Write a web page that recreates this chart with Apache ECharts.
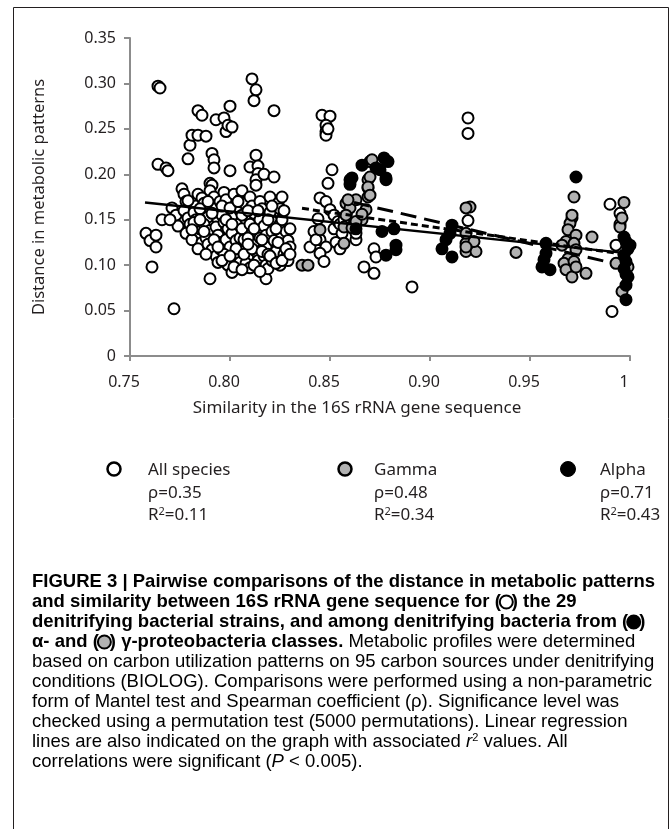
<!DOCTYPE html>
<html>
<head>
<meta charset="utf-8">
<script src="https://cdn.jsdelivr.net/npm/echarts@6/dist/echarts.min.js"></script>
<style>
html, body { margin: 0; padding: 0; background: #fff; }
#chart { width: 671px; height: 829px; }
</style>
</head>
<body>
<div id="chart"></div>
<script>
// pairs of [16S similarity, metabolic distance]
var allSpecies = [
	[0.758,0.135],[0.760,0.127],[0.763,0.133],[0.763,0.120],[0.761,0.098],[0.764,0.297],[0.765,0.295],[0.764,0.211],
	[0.768,0.207],[0.769,0.204],[0.766,0.150],[0.772,0.052],[0.771,0.163],[0.773,0.155],[0.774,0.143],[0.770,0.150],
	[0.776,0.184],[0.777,0.178],[0.778,0.170],[0.779,0.217],[0.780,0.232],[0.781,0.243],[0.777,0.160],[0.779,0.152],
	[0.780,0.145],[0.778,0.135],[0.781,0.128],[0.783,0.165],[0.784,0.178],[0.784,0.270],[0.784,0.243],[0.782,0.158],
	[0.785,0.140],[0.786,0.125],[0.784,0.118],[0.783,0.150],
	[0.786,0.265],[0.788,0.242],[0.786,0.174],[0.787,0.168],[0.788,0.160],[0.789,0.153],[0.787,0.145],[0.790,0.138],
	[0.788,0.130],[0.789,0.123],[0.791,0.117],[0.790,0.085],[0.790,0.190],[0.791,0.188],[0.790,0.182],[0.791,0.223],
	[0.792,0.216],[0.792,0.207],[0.793,0.260],[0.792,0.175],[0.793,0.163],[0.794,0.150],[0.793,0.142],[0.794,0.133],
	[0.795,0.125],[0.793,0.110],[0.794,0.103],[0.795,0.170],[0.795,0.118],
	[0.797,0.262],[0.798,0.247],[0.800,0.275],[0.799,0.254],[0.801,0.252],[0.800,0.204],[0.797,0.180],[0.798,0.172],
	[0.799,0.160],[0.796,0.155],[0.797,0.147],[0.799,0.140],[0.798,0.128],[0.800,0.120],[0.797,0.112],[0.799,0.100],
	[0.801,0.092],[0.802,0.178],[0.803,0.165],[0.802,0.155],[0.804,0.145],[0.801,0.135],[0.803,0.127],[0.804,0.115],
	[0.802,0.108],[0.805,0.172],[0.805,0.160],[0.805,0.130],[0.805,0.103],
	[0.806,0.182],[0.807,0.168],[0.808,0.150],[0.806,0.140],[0.807,0.128],[0.808,0.118],[0.809,0.110],[0.808,0.102],
	[0.810,0.208],[0.811,0.305],[0.812,0.281],[0.813,0.293],[0.813,0.221],[0.814,0.209],[0.814,0.201],[0.813,0.194],
	[0.813,0.188],[0.810,0.175],[0.811,0.165],[0.812,0.157],[0.810,0.145],[0.811,0.135],[0.812,0.124],[0.813,0.115],
	[0.810,0.097],[0.814,0.105],[0.815,0.170],[0.815,0.150],[0.815,0.130],
	[0.816,0.162],[0.817,0.200],[0.817,0.143],[0.818,0.133],[0.818,0.120],[0.817,0.110],[0.818,0.100],[0.818,0.085],
	[0.819,0.096],[0.820,0.175],[0.820,0.158],[0.821,0.148],[0.822,0.197],[0.822,0.270],[0.821,0.137],[0.822,0.127],
	[0.823,0.115],[0.821,0.105],[0.824,0.168],[0.825,0.162],[0.825,0.145],[0.825,0.100],[0.826,0.175],[0.826,0.133],
	[0.827,0.122],[0.827,0.112],[0.828,0.137],[0.829,0.127],[0.828,0.108],[0.830,0.120],[0.830,0.140],
	[0.779,0.171],[0.782,0.147],[0.785,0.162],[0.787,0.137],[0.789,0.170],[0.791,0.157],[0.792,0.128],[0.794,0.120],
	[0.796,0.165],[0.798,0.150],[0.800,0.163],[0.801,0.145],[0.803,0.118],[0.804,0.170],[0.806,0.155],[0.807,0.112],
	[0.809,0.160],[0.809,0.130],[0.811,0.118],[0.812,0.140],[0.814,0.160],[0.816,0.128],[0.816,0.115],[0.819,0.150],
	[0.819,0.112],[0.821,0.165],[0.823,0.140],[0.824,0.125],[0.826,0.150],[0.828,0.118],[0.829,0.105],[0.827,0.160],
	[0.796,0.105],[0.800,0.110],[0.802,0.098],[0.788,0.112],[0.785,0.150],[0.781,0.139],
	[0.812,0.100],[0.815,0.093],[0.820,0.110],[0.823,0.102],[0.826,0.105],[0.830,0.112],[0.806,0.095],[0.809,0.123],
	[0.846,0.265],[0.850,0.264],[0.848,0.254],[0.848,0.247],[0.848,0.243],[0.849,0.250],[0.851,0.205],[0.849,0.190],
	[0.845,0.174],[0.848,0.170],[0.850,0.161],[0.844,0.151],[0.842,0.137],[0.840,0.120],[0.845,0.128],[0.848,0.120],
	[0.845,0.113],[0.847,0.104],[0.843,0.128],[0.852,0.155],[0.852,0.140],[0.854,0.148],[0.853,0.125],[0.855,0.118],
	[0.856,0.135],[0.855,0.145],[0.857,0.150],[0.863,0.128],
	[0.863,0.135],[0.872,0.118],[0.873,0.109],[0.867,0.098],[0.872,0.091],[0.891,0.076],
	[0.919,0.262],[0.919,0.245],[0.919,0.149],
	[0.990,0.167],[0.995,0.157],[0.995,0.145],[0.993,0.122],[0.991,0.049]
];
var gamma = [
	[0.836,0.100],[0.839,0.100],[0.845,0.139],
	[0.858,0.168],[0.860,0.163],[0.858,0.155],[0.857,0.142],[0.861,0.141],[0.857,0.124],[0.868,0.161],[0.869,0.185],
	[0.869,0.194],[0.870,0.214],[0.871,0.216],[0.869,0.175],[0.866,0.150],[0.863,0.172],[0.859,0.172],[0.863,0.148],
	[0.870,0.197],[0.869,0.186],[0.870,0.177],[0.866,0.156],
	[0.920,0.164],[0.918,0.163],[0.918,0.124],[0.918,0.115],[0.923,0.115],[0.922,0.126],[0.918,0.135],[0.918,0.120],
	[0.943,0.114],
	[0.972,0.175],[0.971,0.152],[0.970,0.146],[0.969,0.139],[0.973,0.133],[0.968,0.126],[0.966,0.122],[0.972,0.124],
	[0.973,0.117],[0.969,0.107],[0.967,0.102],[0.972,0.104],[0.968,0.095],[0.971,0.087],[0.978,0.091],[0.981,0.131],
	[0.973,0.098],[0.971,0.155],
	[0.997,0.169],[0.995,0.142],[0.993,0.102],[0.999,0.098],[0.996,0.071],[0.996,0.152]
];
var alpha = [
	[0.860,0.194],[0.861,0.196],[0.866,0.210],[0.877,0.218],[0.879,0.214],[0.875,0.205],[0.878,0.196],[0.873,0.207],
	[0.860,0.189],[0.878,0.194],
	[0.876,0.137],[0.882,0.140],[0.883,0.122],[0.878,0.111],[0.863,0.140],[0.883,0.117],
	[0.911,0.144],[0.910,0.135],[0.906,0.118],[0.911,0.109],[0.908,0.128],
	[0.958,0.124],[0.958,0.113],[0.956,0.098],[0.960,0.095],[0.957,0.106],
	[0.973,0.197],
	[0.997,0.131],[0.998,0.126],[0.999,0.118],[0.997,0.111],[0.998,0.104],[0.997,0.096],[0.999,0.087],[0.998,0.078],
	[0.998,0.062],[1.000,0.122],[0.998,0.090]
];
// regression lines, end points
var allFit = [[0.7575, 0.169], [0.997, 0.1135]];
var gammaFit = [[0.836, 0.1625], [1.0, 0.111]];
var alphaFit = [[0.862, 0.169], [0.988, 0.104]];

var legendNames = ['All species', 'Gamma', 'Alpha'];
var legendRho = ['0.35', '0.48', '0.71'];
var legendR2 = ['0.11', '0.34', '0.43'];
var legendFill = ['#fff', '#b2b2b2', '#000'];

var captionLines = [
	'{b|FIGURE 3 | Pairwise comparisons of the distance in metabolic patterns}',
	'{b|and similarity between 16S rRNA gene sequence for (}{cw| }{b|) the 29}',
	'{b|denitrifying bacterial strains, and among denitrifying bacteria from (}{ck| }{b|)}',
	'{b|\u03b1- and (}{cg| }{b|) \u03b3-proteobacteria classes.}{r| Metabolic profiles were determined}',
	'{r|based on carbon utilization patterns on 95 carbon sources under denitrifying}',
	'{r|conditions (BIOLOG). Comparisons were performed using a non-parametric}',
	'{r|form of Mantel test and Spearman coefficient (\u03c1). Significance level was}',
	'{r|checked using a permutation test (5000 permutations). Linear regression}',
	'{r|lines are also indicated on the graph with associated }{it|r}{sup|2}{r| values. All}',
	'{r|correlations were significant (}{it|P}{r| < 0.005).}'
];

var ink = '#231f20';
var axisGray = '#8c8c8c';
var tickFont = 'Noto Sans';

function scatter(name, data, fill){
	return {
		name: name,
		type: 'scatter',
		data: data,
		symbol: 'circle',
		symbolSize: 11,
		clip: false,
		itemStyle: {color: fill, borderColor: '#000', borderWidth: 2, opacity: 1},
		emphasis: {disabled: true}
	};
}

function fitLine(name, data, type, width){
	return {
		name: name,
		type: 'line',
		data: data,
		symbol: 'none',
		z: 5,
		lineStyle: {color: '#000', width: width, type: type},
		emphasis: {disabled: true}
	};
}

function legendGraphics(){
	var xs = [[114, 148], [345, 374], [568, 600]];
	var rows = [470, 493, 515];
	var els = [];
	var rich = {t: {fontFamily: tickFont, fontSize: 17, color: ink}, s: {fontFamily: tickFont, fontSize: 11, color: ink, verticalAlign: 'top'}};
	for(var i = 0; i < 3; i++){
		els.push({
			type: 'circle',
			shape: {cx: xs[i][0], cy: rows[0] - 1, r: i == 2 ? 7.5 : 6.5},
			style: {fill: legendFill[i], stroke: '#000', lineWidth: i == 2 ? 1 : 2.5}
		});
		var lines = [
			'{t|' + legendNames[i] + '}',
			'{t|\u03c1=' + legendRho[i] + '}',
			'{t|R}{s|2}{t|=' + legendR2[i] + '}'
		];
		for(var j = 0; j < 3; j++){
			els.push({
				type: 'text',
				x: xs[i][1],
				y: rows[j],
				style: {text: lines[j], rich: rich, verticalAlign: 'middle', fontFamily: tickFont, fontSize: 17, fill: ink}
			});
		}
	}
	return els;
}

function caption(){
	var base = {fontFamily: 'Liberation Sans', fontSize: 18.5, lineHeight: 20};
	function st(extra){
		var o = {};
		for(var k in base) o[k] = base[k];
		for(var k2 in extra) o[k2] = extra[k2];
		return o;
	}
	var dot = {width: 11, height: 11, borderRadius: 6, borderWidth: 2, borderColor: '#000', verticalAlign: 'middle', fontSize: 1, lineHeight: 20};
	return {
		type: 'text',
		x: 32,
		y: 572,
		style: {
			text: captionLines.join('\n'),
			fontFamily: 'Liberation Sans',
			fontSize: 18.5,
			lineHeight: 20,
			verticalAlign: 'top',
			rich: {
				b: st({fontWeight: 'bold', color: '#1a1a1a'}),
				r: st({color: '#333'}),
				it: st({color: '#333', fontStyle: 'italic'}),
				sup: {fontFamily: 'Liberation Sans', fontSize: 11, lineHeight: 14, color: '#333', verticalAlign: 'top'},
				cw: Object.assign({}, dot, {backgroundColor: '#fff'}),
				ck: Object.assign({}, dot, {backgroundColor: '#000'}),
				cg: Object.assign({}, dot, {backgroundColor: '#b2b2b2'})
			}
		}
	};
}

var chart = echarts.init(document.getElementById('chart'), null, {renderer: 'canvas'});

var option = {
	backgroundColor: '#fff',
	animation: false,
	grid: {left: 130, top: 38, width: 500, height: 318},
	xAxis: {
		type: 'value',
		min: 0.75,
		max: 1.0,
		interval: 0.05,
		name: 'Similarity in the 16S rRNA gene sequence',
		nameLocation: 'middle',
		nameGap: 44,
		nameTextStyle: {fontFamily: tickFont, fontSize: 17, color: ink, padding: [0, 46, 0, 0]},
		axisLine: {onZero: false, lineStyle: {color: axisGray, width: 2}},
		axisTick: {show: true, inside: false, length: 5, lineStyle: {color: axisGray, width: 2}},
		axisLabel: {
			margin: 18,
			fontFamily: tickFont,
			fontSize: 16,
			color: ink,
			padding: [0, 12, 0, 0],
			showMinLabel: true,
			showMaxLabel: true,
			formatter: function(v){ return v > 0.999 ? '1' : v.toFixed(2); }
		},
		splitLine: {show: false}
	},
	yAxis: {
		type: 'value',
		min: 0,
		max: 0.35,
		interval: 0.05,
		name: 'Distance in metabolic patterns',
		nameLocation: 'middle',
		nameGap: 82,
		nameTextStyle: {fontFamily: tickFont, fontSize: 16.5, color: ink},
		axisLine: {show: true, onZero: false, lineStyle: {color: axisGray, width: 2}},
		axisTick: {show: true, inside: false, length: 6, lineStyle: {color: axisGray, width: 2}},
		axisLabel: {
			margin: 14,
			fontFamily: tickFont,
			fontSize: 16,
			color: ink,
			showMinLabel: true,
			showMaxLabel: true,
			formatter: function(v){ return v === 0 ? '0' : v.toFixed(2); }
		},
		splitLine: {show: false}
	},
	series: [
		scatter('All species', allSpecies, '#fff'),
		scatter('Gamma', gamma, '#b2b2b2'),
		scatter('Alpha', alpha, '#000'),
		fitLine('All species fit', allFit, 'solid', 2.5),
		fitLine('Gamma fit', gammaFit, [7, 4], 3),
		fitLine('Alpha fit', alphaFit, [16, 8], 3)
	],
	graphic: [
		{
			type: 'rect',
			shape: {x: 13.5, y: 7.5, width: 655, height: 900},
			style: {fill: 'none', stroke: ink, lineWidth: 1},
			silent: true
		}
	].concat(legendGraphics(), [caption()])
};

chart.setOption(option);
</script>
</body>
</html>
